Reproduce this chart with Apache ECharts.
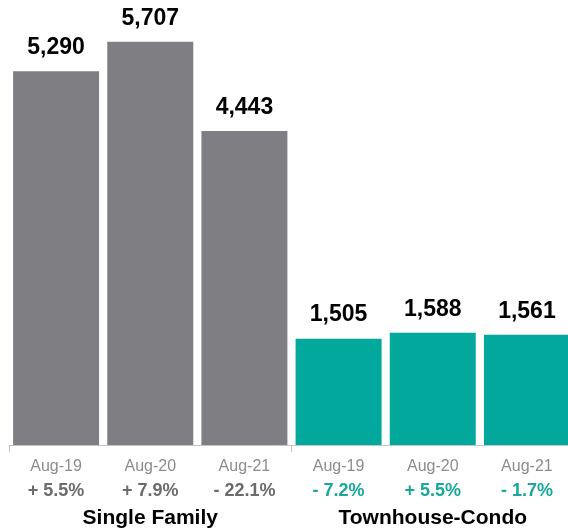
<!DOCTYPE html>
<html><head><meta charset="utf-8">
<script src="https://cdn.jsdelivr.net/npm/echarts@6/dist/echarts.min.js"></script>
<style>html,body{margin:0;padding:0;background:#fff}#c{width:568px;height:532px}</style>
</head><body><div id="c"></div>
<script>
const categories = ['Aug-19','Aug-20','Aug-21','Aug-19','Aug-20','Aug-21'];
const groups = ['Single Family','Townhouse-Condo'];
const values = [5290, 5707, 4443, 1505, 1588, 1561];
const changes = ['+ 5.5%','+ 7.9%','- 22.1%','- 7.2%','+ 5.5%','- 1.7%'];
const groupOf = [0,0,0,1,1,1];
const colors = ['#7f7f83','#02a89b'];
const pctColors = ['#6b6b6b','#17a89a'];

const chart = echarts.init(document.getElementById('c'), null, {renderer:'canvas'});
chart.setOption({
  animation:false,
  grid:{left:9, width:565, top:21, bottom:87, containLabel:false, outerBoundsMode:'none'},
  xAxis:[{
    type:'category', data:categories, position:'bottom',
    axisLine:{show:true, lineStyle:{color:'#c4c4c4', width:1}},
    axisTick:{show:true, length:7, interval:(i)=>i%3===0, lineStyle:{color:'#c4c4c4'}},
    axisLabel:{margin:9, interval:0,
      formatter:(v,i)=>`{a|${v}}\n{${groupOf[i]?'t':'g'}|${changes[i]}}`,
      rich:{
        a:{fontFamily:'Liberation Sans', fontSize:16, color:'#8c8c8c', lineHeight:25},
        g:{fontFamily:'Liberation Sans', fontSize:18, fontWeight:'bold', color:pctColors[0], lineHeight:25},
        t:{fontFamily:'Liberation Sans', fontSize:18, fontWeight:'bold', color:pctColors[1], lineHeight:25}
      }}
  },{
    type:'category', data:groups, position:'bottom', offset:53,
    axisLine:{show:false}, axisTick:{show:false},
    axisLabel:{margin:10, fontFamily:'Liberation Sans', fontSize:21, fontWeight:'bold', color:'#000'}
  }],
  yAxis:{type:'value', min:0, max:6000, show:false, splitLine:{show:false}},
  series:[{
    type:'bar', xAxisIndex:0, barWidth:86,
    data: values.map((v,i)=>({value:v, itemStyle:{color:colors[groupOf[i]]}})),
    label:{show:true, position:'top', distance:12,
      formatter:(p)=>p.value.toLocaleString('en-US'),
      fontFamily:'Liberation Sans', fontSize:23, fontWeight:'bold', color:'#000'}
  }]
});
</script></body></html>
